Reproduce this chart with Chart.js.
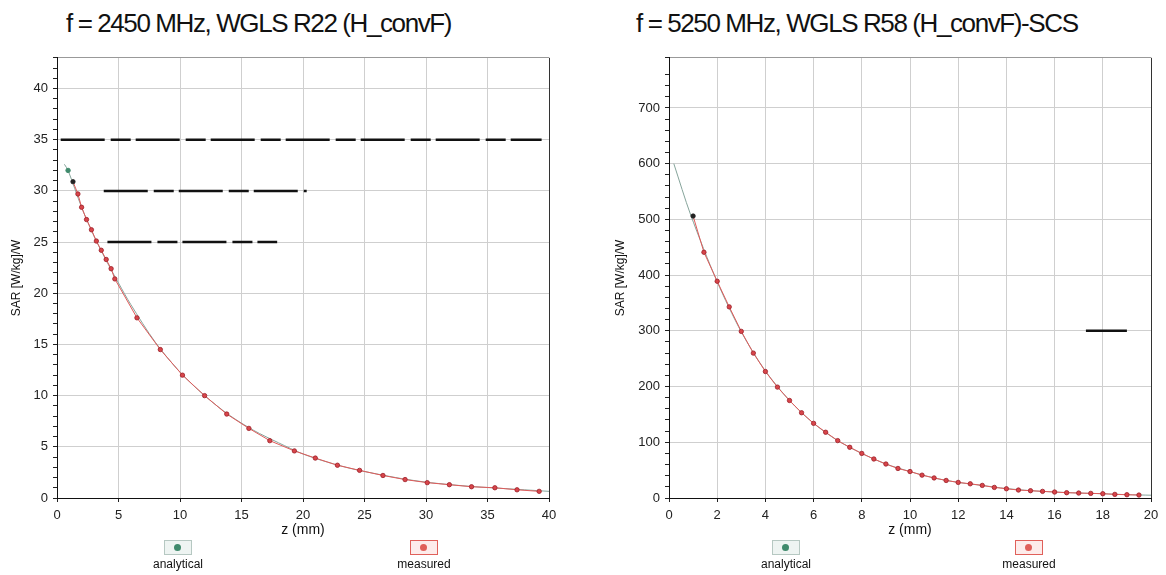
<!DOCTYPE html>
<html>
<head>
<meta charset="utf-8">
<title>SAR vs z</title>
<script src="https://cdn.jsdelivr.net/npm/chart.js@4.4.1/dist/chart.umd.min.js"></script>
<style>
  body { margin: 0; width: 1166px; height: 575px; background: #fff; overflow: hidden; position: relative;
         font-family: "Liberation Sans", Arial, sans-serif; color: #111; }
  .title { position: absolute; top: 10px; font-size: 26px; line-height: 26px; letter-spacing: -1.4px; white-space: nowrap; }
  .wrap { position: absolute; top: 45px; height: 498px; }
  .key { position: absolute; top: 540px; width: 80px; margin-left: -40px; text-align: center; font-size: 12px; line-height: 14px; }
  .key span { display: block; width: 26px; height: 13px; margin: 0 auto 2px; border: 1px solid; position: relative; }
  .key span i { position: absolute; left: 9px; top: 3px; width: 7px; height: 7px; border-radius: 50%; }
  .ana span { border-color: #b6c8c2; background: #eef4f2; }
  .ana span i { background: #3f8a6c; }
  .mea span { border-color: #e0605a; background: #fdeceb; }
  .mea span i { background: #e0605a; }
</style>
</head>
<body>
<div class="title" style="left:66px">f = 2450 MHz, WGLS R22 (H_convF)</div>
<div class="title" style="left:636px">f = 5250 MHz, WGLS R58 (H_convF)-SCS</div>

<div class="wrap" style="left:0;width:580px"><canvas id="chart2450"></canvas></div>
<div class="wrap" style="left:590px;width:576px"><canvas id="chart5250"></canvas></div>

<div class="key ana" style="left:178px"><span><i></i></span>analytical</div>
<div class="key mea" style="left:424px"><span><i></i></span>measured</div>
<div class="key ana" style="left:786px"><span><i></i></span>analytical</div>
<div class="key mea" style="left:1029px"><span><i></i></span>measured</div>

<script>
// f = 2450 MHz
const zMeas2450 = [1.3, 1.7, 2.0, 2.4, 2.8, 3.2, 3.6, 4.0, 4.4, 4.7, 6.5, 8.4, 10.2, 12.0, 13.8, 15.6, 17.3, 19.3, 21.0, 22.8, 24.6, 26.5, 28.3, 30.1, 31.9, 33.7, 35.6, 37.4, 39.2];
const sarMeas2450 = [30.9, 29.7, 28.4, 27.2, 26.2, 25.1, 24.2, 23.3, 22.4, 21.4, 17.6, 14.5, 12.0, 10.0, 8.2, 6.8, 5.6, 4.6, 3.9, 3.2, 2.7, 2.2, 1.8, 1.5, 1.3, 1.1, 1.0, 0.8, 0.65];
const zAna2450 = [0.6, 0.9, 2, 3, 4, 5, 6, 8, 10, 12, 14, 16, 18, 20, 22, 24, 26, 28, 30, 32, 34, 36, 38, 40];
const sarAna2450 = [32.6, 32.0, 28.4, 25.6, 23.2, 21.0, 18.9, 15.2, 12.3, 10.0, 8.1, 6.6, 5.4, 4.3, 3.5, 2.85, 2.35, 1.9, 1.55, 1.3, 1.1, 0.95, 0.8, 0.65];
// dashed scan marks across the plot
const markZ2450 = [[0.3, 39.4], [3.8, 20.3], [4.1, 17.9]];
const markSar2450 = [35, 30, 25];

// f = 5250 MHz
const zMeas5250 = [1.0, 1.45, 2.0, 2.5, 3.0, 3.5, 4.0, 4.5, 5.0, 5.5, 6.0, 6.5, 7.0, 7.5, 8.0, 8.5, 9.0, 9.5, 10.0, 10.5, 11.0, 11.5, 12.0, 12.5, 13.0, 13.5, 14.0, 14.5, 15.0, 15.5, 16.0, 16.5, 17.0, 17.5, 18.0, 18.5, 19.0, 19.5];
const sarMeas5250 = [506, 441, 389, 343, 299, 260, 227, 199, 175, 153, 134, 118, 103, 91, 80, 70, 61, 53, 47.5, 41, 36, 31.5, 28, 25.5, 22.6, 19, 16.6, 14.3, 13.1, 11.9, 10.7, 9.5, 8.9, 8.3, 7.7, 6.5, 5.9, 5.3];
const zAna5250 = [0.2, 0.9, 2, 3, 4, 5, 6, 7, 8, 9, 10, 11, 12, 13, 14, 15, 16, 17, 18, 19, 20];
const sarAna5250 = [600, 508, 388, 298, 228, 175, 134, 103, 80, 61, 47.5, 36, 28, 22.5, 17, 13.2, 10.8, 9, 7.7, 6, 5];
const markZ5250 = [[17.3, 19.0]];
const markSar5250 = [300];

const FONT = "'Liberation Sans', Arial, sans-serif";

function pts(xs, ys) {
  return xs.map((x, i) => ({ x: x, y: ys[i] }));
}

function sarChart(id, c) {
  const datasets = [
    {
      label: 'measured',
      data: pts(c.zMeas, c.sarMeas),
      borderColor: '#e05a5a',
      borderWidth: 1,
      pointRadius: 2.2,
      pointBackgroundColor: ctx => ctx.dataIndex === 0 ? '#222' : '#d8454a',
      pointBorderColor: ctx => ctx.dataIndex === 0 ? '#222' : '#9c2028',
      pointBorderWidth: 0.8,
      tension: 0
    },
    {
      label: 'analytical',
      data: pts(c.zAna, c.sarAna),
      borderColor: '#86a49b',
      borderWidth: 1,
      pointRadius: ctx => (c.anaDot && ctx.dataIndex === 1) ? 2.2 : 0,
      pointBackgroundColor: '#3f8a6c',
      pointBorderColor: '#3f8a6c',
      tension: 0.3
    }
  ];
  c.markZ.forEach((seg, i) => {
    datasets.push({
      label: 'mark',
      data: pts(seg, [c.markSar[i], c.markSar[i]]),
      borderColor: '#111',
      borderWidth: 2.5,
      borderDash: [44, 6, 20, 5],
      pointRadius: 0
    });
  });

  return new Chart(document.getElementById(id), {
    type: 'line',
    data: { datasets: datasets },
    options: {
      responsive: true,
      maintainAspectRatio: false,
      animation: false,
      layout: { padding: { left: c.padLeft, right: c.padRight, top: 10, bottom: 0 } },
      plugins: { legend: { display: false }, tooltip: { enabled: false } },
      scales: {
        x: {
          type: 'linear',
          min: 0,
          max: c.xMax,
          afterFit: s => { s.height = 45; },
          border: { color: '#111', width: 1 },
          grid: {
            color: ctx => ctx.tick.value === c.xMax ? '#333' : '#cfcfcf',
            tickColor: '#222',
            tickLength: 4
          },
          ticks: { stepSize: c.xStep, padding: 6, color: '#222', font: { family: FONT, size: 13 }, maxRotation: 0 },
          title: { display: true, text: 'z (mm)', color: '#111', font: { family: FONT, size: 14 } }
        },
        y: {
          min: 0,
          max: c.yMax,
          afterFit: s => { s.width = c.yWidth; },
          border: { color: '#111', width: 1 },
          grid: {
            color: ctx => {
              if (ctx.tick.value === c.yMax) return '#999';
              return ctx.tick.value % c.yMajor === 0 ? '#cfcfcf' : 'rgba(0,0,0,0)';
            },
            tickColor: '#222',
            tickLength: 4
          },
          ticks: {
            stepSize: c.yStep,
            autoSkip: false,
            padding: 5,
            color: '#222',
            font: { family: FONT, size: 13 },
            callback: v => (v % c.yMajor === 0 && v !== c.yMax) ? v : ''
          },
          title: { display: true, text: 'SAR [W/kg]/W', color: '#111', font: { family: FONT, size: 12 } }
        }
      }
    }
  });
}

sarChart('chart2450', {
  zMeas: zMeas2450, sarMeas: sarMeas2450, zAna: zAna2450, sarAna: sarAna2450,
  markZ: markZ2450, markSar: markSar2450, anaDot: true,
  xMax: 40, xStep: 5, yMax: 43, yStep: 1, yMajor: 5,
  padLeft: 5, padRight: 31, yWidth: 52
});

sarChart('chart5250', {
  zMeas: zMeas5250, sarMeas: sarMeas5250, zAna: zAna5250, sarAna: sarAna5250,
  markZ: markZ5250, markSar: markSar5250, anaDot: false,
  xMax: 20, xStep: 2, yMax: 790, yStep: 20, yMajor: 100,
  padLeft: 19, padRight: 15, yWidth: 60
});
</script>
</body>
</html>
